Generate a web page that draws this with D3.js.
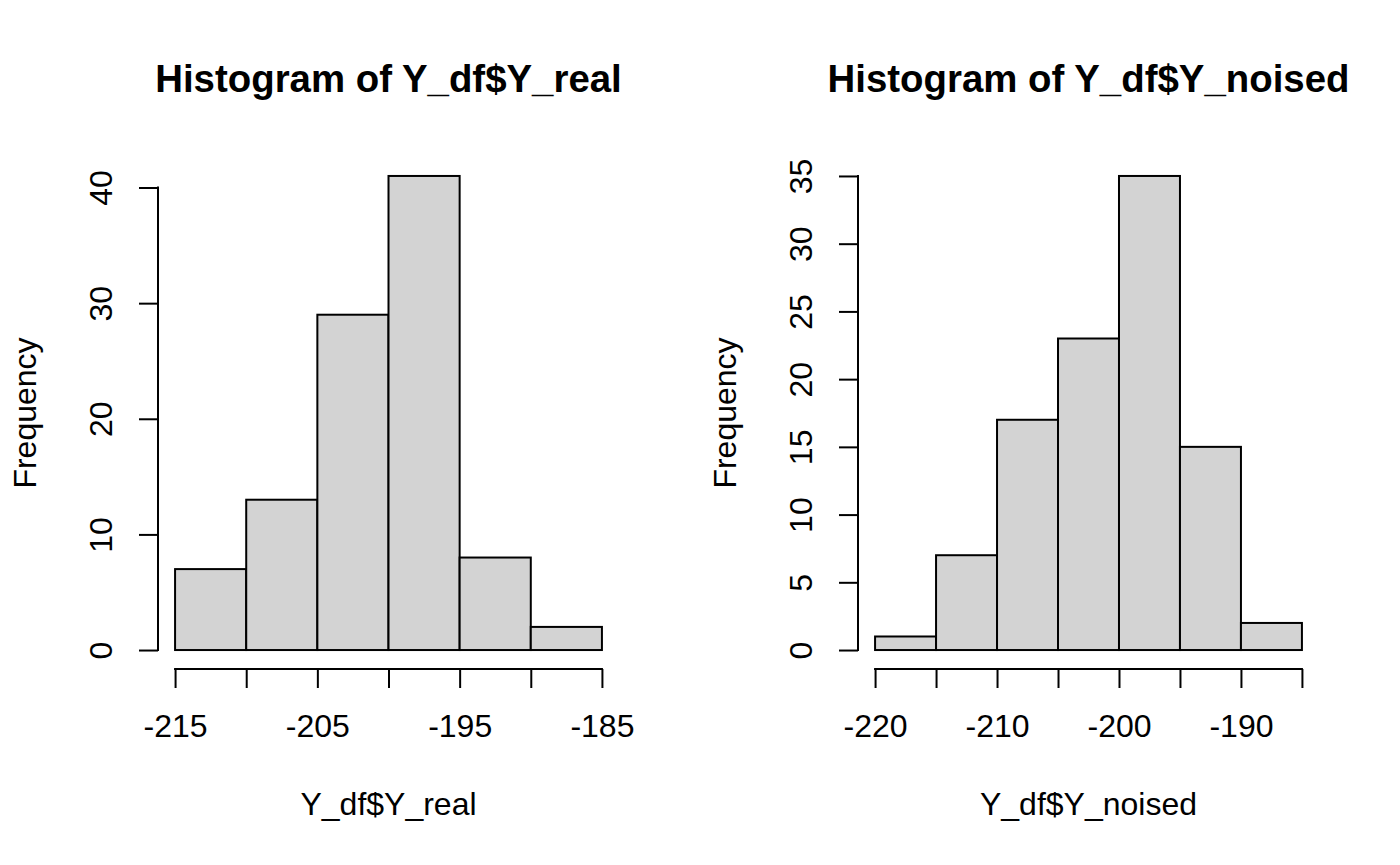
<!DOCTYPE html>
<html>
<head>
<meta charset="utf-8">
<script src="https://cdn.jsdelivr.net/npm/d3@7"></script>
<style>
  html, body { margin: 0; padding: 0; background: #fff; }
  svg { display: block; }
  text { font-family: "Liberation Sans", Arial, Helvetica, sans-serif; fill: #000; }
</style>
</head>
<body>
<svg id="chart" width="1400" height="865"></svg>
<script>
// ---- Data ----
const realBreaks = [-215, -210, -205, -200, -195, -190, -185];
const realCounts = [7, 13, 29, 41, 8, 2];
const realXLabels = [-215, -205, -195, -185];
const realYTicks = [0, 10, 20, 30, 40];

const noisedBreaks = [-220, -215, -210, -205, -200, -195, -190, -185];
const noisedCounts = [1, 7, 17, 23, 35, 15, 2];
const noisedXLabels = [-220, -210, -200, -190];
const noisedYTicks = [0, 5, 10, 15, 20, 25, 30, 35];

const titles = ["Histogram of Y_df$Y_real", "Histogram of Y_df$Y_noised"];
const xTitles = ["Y_df$Y_real", "Y_df$Y_noised"];
const yTitle = "Frequency";

const panels = [
  { breaks: realBreaks, counts: realCounts, xLabels: realXLabels, yTicks: realYTicks, title: titles[0], xTitle: xTitles[0] },
  { breaks: noisedBreaks, counts: noisedCounts, xLabels: noisedXLabels, yTicks: noisedYTicks, title: titles[1], xTitle: xTitles[1] }
];

// ---- Layout (R base graphics style, mfrow = c(1,2)) ----
const svg = d3.select("#chart");
const figW = 700;
const plot = { left: 158, right: 619, top: 157, bottom: 669 };
const fs = 32;       // base font size
const tick = 19;     // tick length
const lw = 2;        // line width

panels.forEach((p, i) => {
  const g = svg.append("g").attr("transform", `translate(${i * figW},0)`);
  const xmin = d3.min(p.breaks), xmax = d3.max(p.breaks);
  const xpad = (xmax - xmin) * 0.04;
  const x = d3.scaleLinear().domain([xmin - xpad, xmax + xpad]).range([plot.left, plot.right]);
  const ymax = d3.max(p.counts);
  const y = d3.scaleLinear().domain([-ymax * 0.04, ymax * 1.04]).range([plot.bottom, plot.top]);

  const bins = p.counts.map((c, k) => ({ x0: p.breaks[k], x1: p.breaks[k + 1], c }));

  // bars
  g.selectAll("rect.bar").data(bins).join("rect")
    .attr("class", "bar")
    .attr("x", d => x(d.x0))
    .attr("y", d => y(d.c))
    .attr("width", d => x(d.x1) - x(d.x0))
    .attr("height", d => y(0) - y(d.c))
    .attr("fill", "#D3D3D3")
    .attr("stroke", "#000")
    .attr("stroke-width", lw);

  // x axis
  const xAxis = d3.axisBottom(x)
    .tickValues(p.breaks)
    .tickSize(tick)
    .tickSizeOuter(0)
    .tickFormat(d => p.xLabels.includes(d) ? String(d) : "");
  const xg = g.append("g").attr("transform", `translate(0,${plot.bottom})`).call(xAxis);
  xg.select(".domain").remove();
  xg.selectAll(".tick line").attr("stroke", "#000").attr("stroke-width", lw);
  xg.selectAll(".tick text")
    .attr("y", 68).attr("dy", 0)
    .style("font-size", fs + "px")
    .style("font-family", "'Liberation Sans', Arial, sans-serif")
    .attr("fill", "#000");
  xg.append("line")
    .attr("x1", x(xmin)).attr("x2", x(xmax))
    .attr("y1", 0).attr("y2", 0)
    .attr("stroke", "#000").attr("stroke-width", lw).attr("stroke-linecap", "square");

  // y axis
  const yAxis = d3.axisLeft(y)
    .tickValues(p.yTicks)
    .tickSize(tick)
    .tickSizeOuter(0)
    .tickFormat(d => String(d));
  const yg = g.append("g").attr("transform", `translate(${plot.left},0)`).call(yAxis);
  yg.select(".domain").remove();
  yg.selectAll(".tick line").attr("stroke", "#000").attr("stroke-width", lw);
  yg.selectAll(".tick text")
    .attr("x", 0).attr("dy", 0)
    .attr("text-anchor", "middle")
    .attr("transform", "translate(-46,0) rotate(-90)")
    .style("font-size", fs + "px")
    .style("font-family", "'Liberation Sans', Arial, sans-serif")
    .attr("fill", "#000");
  yg.append("line")
    .attr("x1", 0).attr("x2", 0)
    .attr("y1", y(d3.min(p.yTicks))).attr("y2", y(d3.max(p.yTicks)))
    .attr("stroke", "#000").attr("stroke-width", lw).attr("stroke-linecap", "square");

  const cx = (plot.left + plot.right) / 2;
  const cy = (plot.top + plot.bottom) / 2;

  // title
  g.append("text")
    .attr("x", cx).attr("y", 92)
    .attr("text-anchor", "middle")
    .style("font-size", (fs * 1.2) + "px")
    .style("font-weight", "bold")
    .text(p.title);

  // x title
  g.append("text")
    .attr("x", cx).attr("y", 815)
    .attr("text-anchor", "middle")
    .style("font-size", fs + "px")
    .text(p.xTitle);

  // y title
  g.append("text")
    .attr("transform", `translate(36,${cy}) rotate(-90)`)
    .attr("text-anchor", "middle")
    .style("font-size", fs + "px")
    .text(yTitle);
});
</script>
</body>
</html>
